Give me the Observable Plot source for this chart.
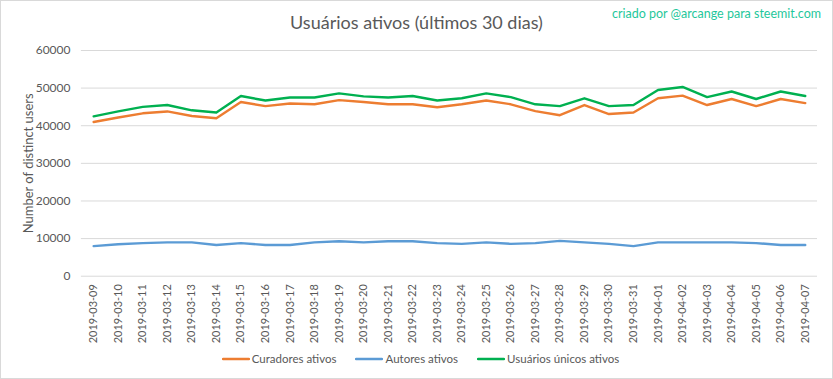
<!DOCTYPE html>
<html>
<head>
<meta charset="utf-8">
<script src="https://cdn.jsdelivr.net/npm/d3@7"></script>
<script src="https://cdn.jsdelivr.net/npm/@observablehq/plot@0.6"></script>
<style>
  html, body { margin: 0; padding: 0; background: #fff; }
  #chart {
    position: relative; width: 833px; height: 379px; box-sizing: border-box;
    border: 1px solid #d9d9d9; background: #fff; overflow: hidden;
    font-family: Lato, "Open Sans", sans-serif; color: #595959;
  }
  #title {
    position: absolute; left: 0; right: 0; top: 8px; text-align: center;
    font-size: 18px; line-height: 26px; color: #595959;
  }
  #credit {
    position: absolute; right: 11px; top: 5px; font-size: 12.5px; line-height: 16px; color: #1fc79b;
  }
  #plot { position: absolute; left: -1px; top: 39px; }
  #legend {
    position: absolute; left: 8px; right: 0; top: 349px; display: flex; justify-content: center;
    gap: 19px; font-size: 11.5px; line-height: 18px; color: #595959;
  }
  #legend .item { display: flex; align-items: center; }
  #legend svg { margin-right: 2px; }
</style>
</head>
<body>
<div id="chart">
  <div id="title">Usuários ativos (últimos 30 dias)</div>
  <div id="credit">criado por @arcange para steemit.com</div>
  <div id="plot"></div>
  <div id="legend"></div>
</div>
<script>
const dates = [
  "2019-03-09","2019-03-10","2019-03-11","2019-03-12","2019-03-13","2019-03-14","2019-03-15",
  "2019-03-16","2019-03-17","2019-03-18","2019-03-19","2019-03-20","2019-03-21","2019-03-22",
  "2019-03-23","2019-03-24","2019-03-25","2019-03-26","2019-03-27","2019-03-28","2019-03-29",
  "2019-03-30","2019-03-31","2019-04-01","2019-04-02","2019-04-03","2019-04-04","2019-04-05",
  "2019-04-06","2019-04-07"
];
const curadores = [41000, 42200, 43300, 43800, 42600, 42000, 46300, 45200, 45900, 45700,
  46800, 46300, 45700, 45700, 44900, 45700, 46700, 45700, 43900, 42800,
  45500, 43100, 43500, 47300, 48000, 45500, 47100, 45200, 47100, 46000];
const autores = [8000, 8500, 8800, 9000, 9000, 8300, 8800, 8300, 8300, 9000,
  9300, 9000, 9300, 9300, 8800, 8600, 9000, 8600, 8800, 9400,
  9000, 8600, 8000, 9000, 9000, 9000, 9000, 8800, 8300, 8300];
const unicos = [42500, 43800, 45000, 45500, 44100, 43500, 47900, 46700, 47500, 47500,
  48600, 47800, 47500, 47900, 46700, 47300, 48600, 47600, 45700, 45200,
  47300, 45200, 45500, 49500, 50300, 47600, 49100, 47100, 49100, 47900];
const seriesNames = ["Curadores ativos", "Autores ativos", "Usuários únicos ativos"];
const seriesColors = ["#ED7D31", "#5B9BD5", "#00B050"];
const yTicks = [0, 10000, 20000, 30000, 40000, 50000, 60000];
const yLabel = "Number of distinct users";

const seriesValues = [curadores, autores, unicos];
const rows = [];
seriesNames.forEach((name, s) => {
  dates.forEach((d, i) => rows.push({date: d, value: seriesValues[s][i], series: name}));
});

const plot = Plot.plot({
  width: 833,
  height: 311,
  marginTop: 10,
  marginBottom: 75,
  marginLeft: 81,
  marginRight: 15,
  style: {fontFamily: "Lato, 'Open Sans', sans-serif", color: "#595959", background: "transparent"},
  x: {type: "point", domain: dates, padding: 0.5, round: false},
  y: {domain: [0, 60000]},
  color: {domain: seriesNames, range: seriesColors},
  marks: [
    Plot.gridY(yTicks, {stroke: "#d9d9d9", strokeOpacity: 1}),
    Plot.axisY({ticks: yTicks, tickSize: 0, tickPadding: 11, tickFormat: d3.format("d"), label: null, fontSize: 12, fill: "#595959"}),
    Plot.axisX({tickRotate: -90, tickSize: 0, tickPadding: 8, label: null, fontSize: 11, fill: "#595959"}),
    Plot.line(rows, {x: "date", y: "value", z: "series", stroke: "series", strokeWidth: 2.4, strokeLinejoin: "round", strokeLinecap: "round"}),
    Plot.text([yLabel], {frameAnchor: "left", textAnchor: "middle", dx: -53, rotate: -90, fontSize: 13, fill: "#595959"})
  ]
});
document.getElementById("plot").appendChild(plot);

const legend = document.getElementById("legend");
seriesNames.forEach((name, i) => {
  const item = document.createElement("div");
  item.className = "item";
  item.innerHTML = `<svg width="28" height="10"><line x1="1" y1="5" x2="27" y2="5" stroke="${seriesColors[i]}" stroke-width="2.4" stroke-linecap="round"/></svg><span>${name}</span>`;
  legend.appendChild(item);
});
</script>
</body>
</html>
